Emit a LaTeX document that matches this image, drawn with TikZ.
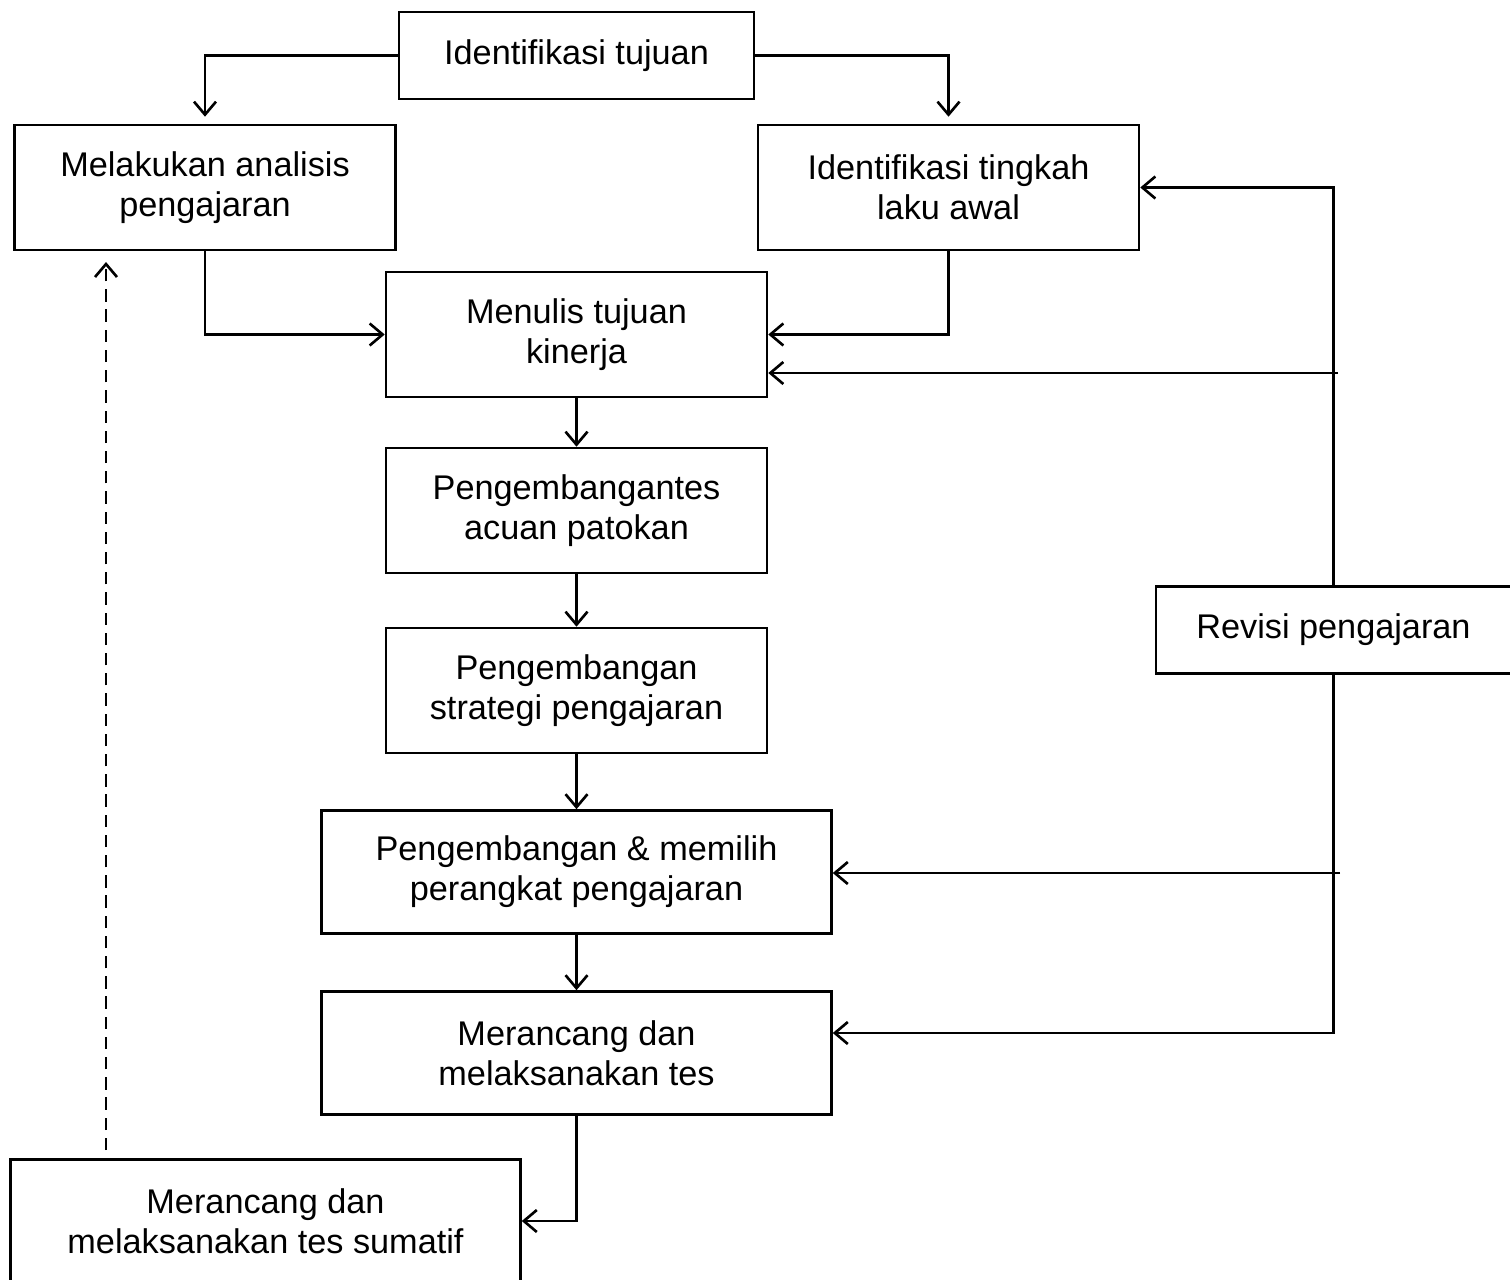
\documentclass[tikz,border=0pt]{standalone}
\usepackage{fontspec}
\setmainfont{Liberation Sans}
\usetikzlibrary{arrows.meta}

\begin{document}
\begin{tikzpicture}[
  x=0.02cm, y=-0.02cm,
  font=\fontsize{19.5}{22.7}\selectfont,
  head/.style={draw, minimum width=7.1cm, minimum height=1.74cm, align=center, inner sep=0pt, line width=1.5pt},
  stage/.style={draw, minimum width=7.62cm, minimum height=2.5cm, align=center, inner sep=0pt, line width=1.5pt},
  wide/.style={draw, minimum width=10.2cm, minimum height=2.46cm, align=center, inner sep=0pt, line width=1.5pt},
  arrow/.style={-{Straight Barb[length=2.6mm, width=4.4mm]}, line width=1.5pt},
  dasharrow/.style={arrow, dash pattern=on 7pt off 4.5pt}
]
\useasboundingbox (0,0) rectangle (1510,1280);

% top
\node[head]  (tujuan)   at (576.5, 55.5)  {Identifikasi tujuan};
\node[stage] (analisis) at (205, 187.5)   {Melakukan analisis\\pengajaran};
\node[stage] (awal)     at (948.5, 187.5) {Identifikasi tingkah\\laku awal};

% main column
\node[stage] (kinerja)   at (576.5, 334.5) {Menulis tujuan\\kinerja};
\node[stage] (patokan)   at (576.5, 510.5) {Pengembangantes\\acuan patokan};
\node[stage] (strategi)  at (576.5, 690.5) {Pengembangan\\strategi pengajaran};
\node[wide]  (perangkat) at (576.5, 872)   {Pengembangan \& memilih\\perangkat pengajaran};
\node[wide]  (tes)       at (576.5, 1053)  {Merancang dan\\melaksanakan tes};
\node[wide]  (sumatif)   at (265.5, 1221)  {Merancang dan\\melaksanakan tes sumatif};

% revision
\node[head]  (revisi) at (1333.5, 630) {Revisi pengajaran};

\coordinate (r1) at (1338, 373);
\coordinate (r2) at (1340, 873);
\coordinate (r3) at (1333.5, 1033);
\coordinate (d1) at (106, 262);

\draw[arrow, shorten >=0.14cm] (tujuan.west) -| (analisis.north);
\draw[arrow, shorten >=0.14cm] (tujuan.east) -| (awal.north);
\draw[arrow] (analisis.south) |- (kinerja.west);
\draw[arrow] (awal.south) |- (kinerja.east);

\draw[arrow] (kinerja) -- (patokan);
\draw[arrow] (patokan) -- (strategi);
\draw[arrow] (strategi) -- (perangkat);
\draw[arrow] (perangkat) -- (tes);
\draw[arrow] (tes.south) |- (sumatif.east);

\draw[arrow] (revisi.north) |- (awal.east);
\draw[arrow] (r1) -- (r1 -| kinerja.east);
\draw[arrow] (r2) -- (r2 -| perangkat.east);
\draw[arrow] (revisi.south) -- (r3) -- (r3 -| tes.east);

\draw[dasharrow, shorten <=0.16cm] (sumatif.north -| d1) -- (d1);
\end{tikzpicture}
\end{document}
